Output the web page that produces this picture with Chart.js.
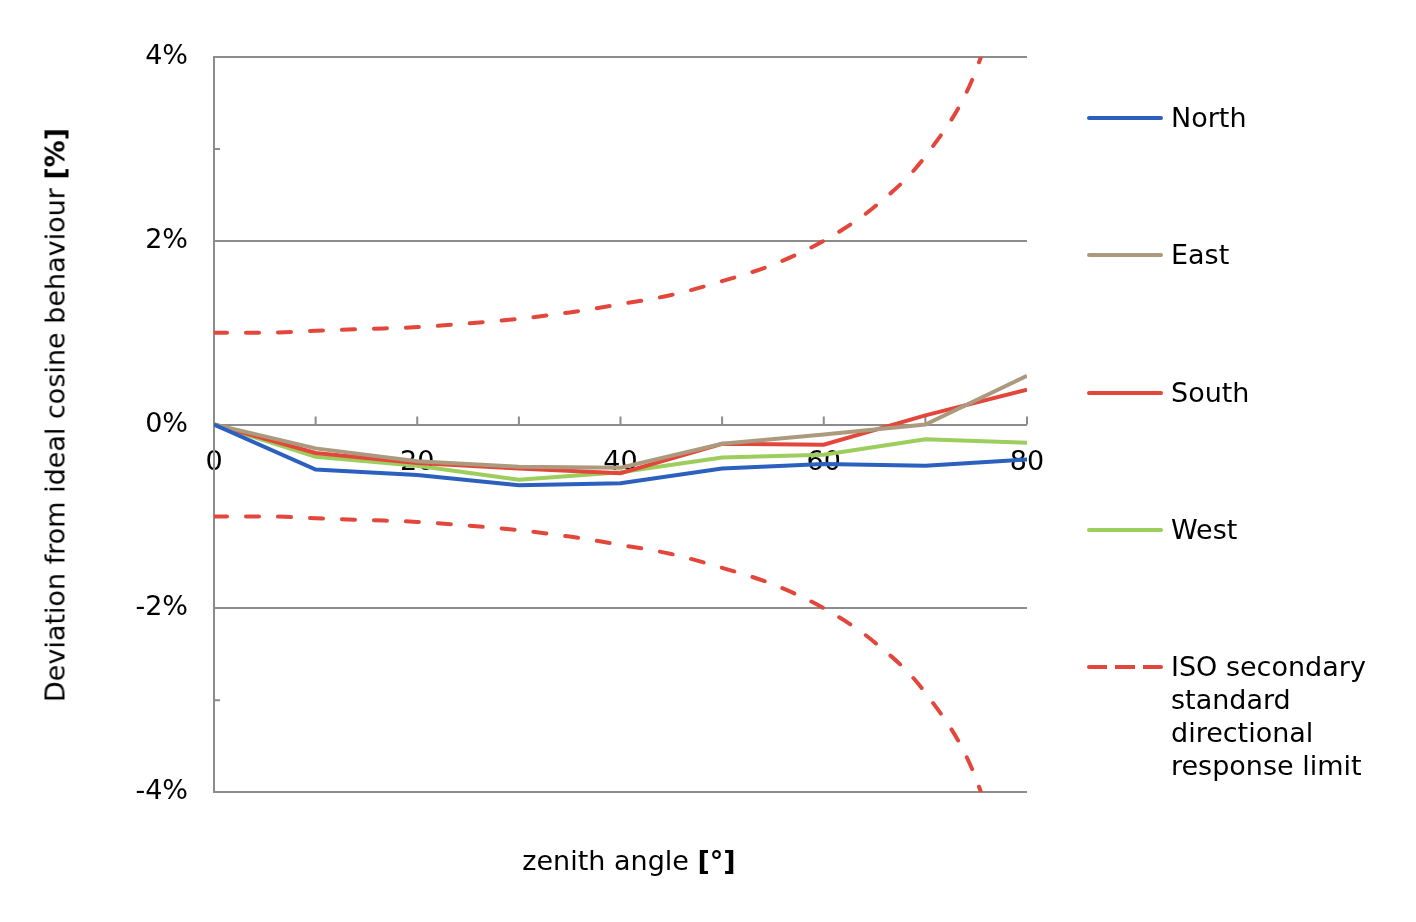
<!DOCTYPE html>
<html>
<head>
<meta charset="utf-8">
<script src="https://cdn.jsdelivr.net/npm/chart.js@4.4.1/dist/chart.umd.min.js"></script>
<style>
  body { margin: 0; background: #fff; font-family: 'DejaVu Sans', Verdana, sans-serif; }
  #wrap { position: relative; width: 1416px; height: 922px; }
  #chart { position: absolute; left: 0; top: 0; }
  .ytitle { position: absolute; left: 55px; top: 415px; transform: translate(-50%, -50%) rotate(-90deg); white-space: nowrap; font-size: 27px; color: #000; }
  .xtitle { position: absolute; left: 629px; top: 860px; transform: translate(-50%, -50%); white-space: nowrap; font-size: 27px; color: #000; }
  .leg { position: absolute; left: 1087px; font-size: 27px; line-height: 33px; color: #000; white-space: nowrap; }
  .leg .sample { position: absolute; left: 0; top: 15px; width: 76px; height: 4px; border-radius: 2px; }
  .leg .txt { margin-left: 84px; }
</style>
</head>
<body>
<div id="wrap">
  <canvas id="chart" width="1416" height="922"></canvas>
  <div class="ytitle">Deviation from ideal cosine behaviour <b>[%]</b></div>
  <div class="xtitle">zenith angle <b>[°]</b></div>
  <div id="legend"></div>
</div>
<script>
const angles = [0, 10, 20, 30, 40, 50, 60, 70, 80]
const north = [0, -0.49, -0.55, -0.66, -0.64, -0.48, -0.43, -0.45, -0.38]
const east = [0, -0.26, -0.40, -0.46, -0.47, -0.21, -0.11, 0.0, 0.53]
const south = [0, -0.31, -0.42, -0.48, -0.53, -0.21, -0.22, 0.10, 0.38]
const west = [0, -0.35, -0.45, -0.60, -0.52, -0.36, -0.33, -0.16, -0.20]
const limitAngles = [0, 5, 10, 15, 20, 25, 30, 35, 40, 45, 50, 55, 60, 65, 70, 75, 80]
const limitUpper = [1.00, 1.00, 1.02, 1.04, 1.06, 1.10, 1.15, 1.22, 1.31, 1.41, 1.56, 1.74, 2.00, 2.37, 2.92, 3.86, 5.76]
const limitLower = [-1.00, -1.00, -1.02, -1.04, -1.06, -1.10, -1.15, -1.22, -1.31, -1.41, -1.56, -1.74, -2.00, -2.37, -2.92, -3.86, -5.76]
const yTicks = [-4, -2, 0, 2, 4]

const pts = (xs, arr) => xs.map((a, i) => ({x: a, y: arr[i]}))

const seriesLine = (label, values, color) => ({
    label: label,
    data: pts(angles, values),
    borderColor: color,
    backgroundColor: color,
    borderWidth: 4,
    pointRadius: 0,
    tension: 0,
    fill: false,
})

const limitLine = (label, values) => ({
    label: label,
    data: pts(limitAngles, values),
    borderColor: '#e3463a',
    backgroundColor: '#e3463a',
    borderWidth: 4,
    borderDash: [13, 19],
    borderCapStyle: 'round',
    pointRadius: 0,
    cubicInterpolationMode: 'monotone',
    fill: false,
})

const data = {
    datasets: [
        seriesLine('North', north, '#2b60be'),
        seriesLine('East', east, '#ad9a7e'),
        seriesLine('South', south, '#e3463a'),
        seriesLine('West', west, '#9ccd5d'),
        limitLine('ISO secondary standard directional response limit', limitUpper),
        limitLine('', limitLower),
    ]
}

// small tick marks: upward on the zero line, rightward on the y axis at odd values
const tickMarks = {
    id: 'tickMarks',
    beforeDatasetsDraw(chart) {
        const ctx = chart.ctx
        const xs = chart.scales.x, ys = chart.scales.y
        const y0 = ys.getPixelForValue(0)
        const left = chart.chartArea.left
        ctx.save()
        ctx.strokeStyle = '#8c8c8c'
        ctx.lineWidth = 2
        ctx.beginPath()
        angles.forEach(a => {
            const px = xs.getPixelForValue(a)
            ctx.moveTo(px, y0)
            ctx.lineTo(px, y0 - 8)
        })
        ;[-3, -1, 1, 3].forEach(v => {
            const py = ys.getPixelForValue(v)
            ctx.moveTo(left, py)
            ctx.lineTo(left + 6, py)
        })
        ctx.stroke()
        ctx.restore()
    }
}

const font = {family: "'DejaVu Sans', Verdana, sans-serif", size: 27}

const config = {
    type: 'line',
    data: data,
    options: {
        responsive: false,
        animation: false,
        layout: {
            padding: {left: 0, top: 57, right: 389, bottom: 130}
        },
        plugins: {
            legend: {display: false},
            tooltip: {enabled: false}
        },
        scales: {
            x: {
                type: 'linear',
                min: 0,
                max: 80,
                position: {y: 0},
                grid: {display: false, drawTicks: false},
                border: {display: false},
                ticks: {
                    stepSize: 10,
                    autoSkip: false,
                    maxRotation: 0,
                    padding: 22,
                    color: '#000',
                    font: font,
                    callback: v => v % 20 === 0 ? String(v) : ''
                }
            },
            y: {
                min: -4,
                max: 4,
                afterFit: scale => { scale.width = 214 },
                grid: {
                    color: ctx => yTicks.includes(ctx.tick.value) ? '#8c8c8c' : 'rgba(0,0,0,0)',
                    lineWidth: 2,
                    drawTicks: false
                },
                border: {color: '#8c8c8c', width: 2},
                ticks: {
                    stepSize: 1,
                    padding: 26,
                    color: '#000',
                    font: font,
                    callback: v => yTicks.includes(v) ? v + '%' : ''
                }
            }
        }
    },
    plugins: [tickMarks]
}

const chart = new Chart(document.getElementById('chart'), config)

// legend built from the datasets
const legendTops = [101, 238, 376, 513, 650]
const legend = document.getElementById('legend')
chart.data.datasets.slice(0, 5).forEach((ds, i) => {
    const item = document.createElement('div')
    item.className = 'leg'
    item.style.top = legendTops[i] + 'px'
    const sample = document.createElement('div')
    sample.className = 'sample'
    if (ds.borderDash) {
        sample.style.background = 'repeating-linear-gradient(90deg, ' + ds.borderColor + ' 0 20px, transparent 20px 28px)'
    } else {
        sample.style.background = ds.borderColor
    }
    const txt = document.createElement('div')
    txt.className = 'txt'
    txt.innerHTML = i === 4 ? 'ISO secondary<br>standard<br>directional<br>response limit' : ds.label
    item.appendChild(sample)
    item.appendChild(txt)
    legend.appendChild(item)
})
</script>
</body>
</html>
